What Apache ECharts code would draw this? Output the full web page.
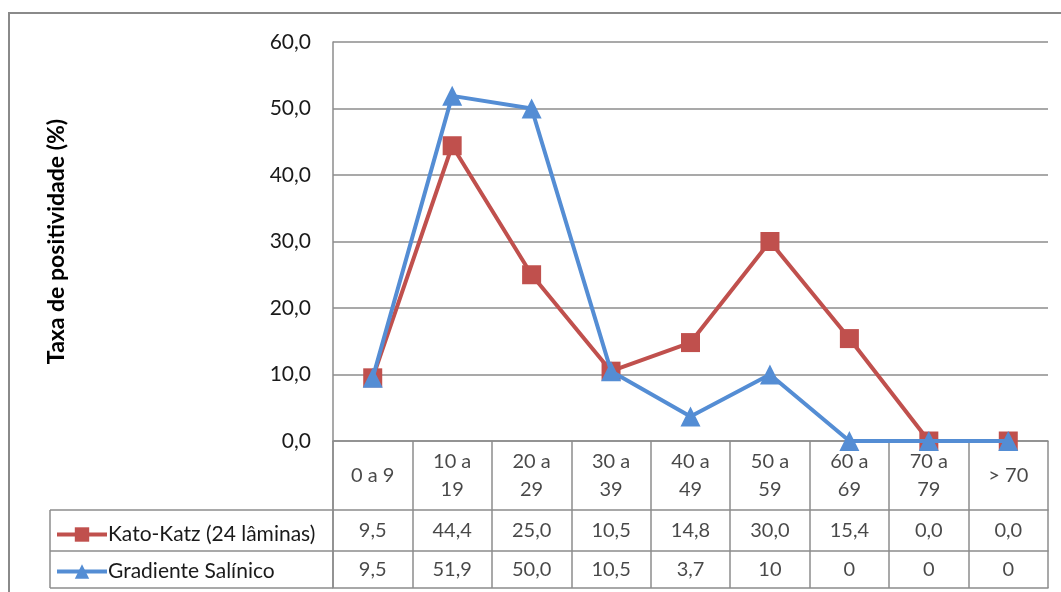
<!DOCTYPE html>
<html>
<head>
<meta charset="utf-8">
<script src="https://cdn.jsdelivr.net/npm/echarts@6/dist/echarts.min.js"></script>
<style>html,body{margin:0;padding:0;background:#fff;}#c{width:1061px;height:592px;}</style>
</head>
<body>
<div id="c"></div>
<script>
var categories = ['0 a 9', '10 a\n19', '20 a\n29', '30 a\n39', '40 a\n49', '50 a\n59', '60 a\n69', '70 a\n79', '> 70'];
var katoValues = [9.5, 44.4, 25.0, 10.5, 14.8, 30.0, 15.4, 0.0, 0.0];
var gradValues = [9.5, 51.9, 50.0, 10.5, 3.7, 10, 0, 0, 0];
var katoLabels = ['9,5', '44,4', '25,0', '10,5', '14,8', '30,0', '15,4', '0,0', '0,0'];
var gradLabels = ['9,5', '51,9', '50,0', '10,5', '3,7', '10', '0', '0', '0'];
var yTicks = [0, 10, 20, 30, 40, 50, 60];
var seriesNames = ['Kato-Katz (24 lâminas)', 'Gradiente Salínico'];

var FONT = 'Lato';
var LINE = '#8c8c8c';
var RED = '#C0504D';
var BLUE = '#548DD4';

var L = 333, W = 715;
function rowGrid(top, h) { return { left: L, top: top, width: W, height: h }; }
function rowX(idx) {
  return {
    type: 'category', gridIndex: idx, data: categories, boundaryGap: true, position: 'bottom',
    axisLine: { show: true, onZero: false, lineStyle: { color: LINE, width: 1.5 } },
    axisTick: { show: false }, axisLabel: { show: false },
    splitLine: { show: true, lineStyle: { color: LINE, width: 1.5 } }
  };
}
function rowY(idx) {
  return { type: 'value', gridIndex: idx, min: -1, max: 1, show: false };
}
function textSeries(idx, labels) {
  return {
    type: 'scatter', xAxisIndex: idx, yAxisIndex: idx, symbolSize: 0, silent: true,
    data: labels.map(function (t, i) { return [i, 0]; }),
    label: {
      show: true, position: 'inside', color: '#1a1a1a', fontFamily: FONT, fontSize: 20, lineHeight: 28,
      formatter: function (p) { return labels[p.dataIndex]; }
    }
  };
}

var chart = echarts.init(document.getElementById('c'));
chart.setOption({
  backgroundColor: '#fff',
  animation: false,
  grid: [
    { left: L, top: 42, width: W, height: 399 },
    rowGrid(441, 69),
    rowGrid(510, 41),
    rowGrid(551, 37)
  ],
  legend: {
    orient: 'vertical', left: 50, top: 519, itemGap: 16, itemWidth: 50, itemHeight: 18,
    data: seriesNames,
    lineStyle: { width: 4 },
    textStyle: { fontFamily: FONT, fontSize: 21, color: '#1a1a1a', padding: [0, 0, 0, -4] }
  },
  xAxis: [
    {
      type: 'category', gridIndex: 0, data: categories, boundaryGap: true,
      axisLine: { show: true, lineStyle: { color: LINE, width: 1.5 } },
      axisTick: { show: false }, axisLabel: { show: false }, splitLine: { show: false }
    },
    rowX(1), rowX(2), rowX(3)
  ],
  yAxis: [
    {
      type: 'value', gridIndex: 0, min: yTicks[0], max: yTicks[yTicks.length - 1], interval: 10,
      name: 'Taxa de positividade (%)', nameLocation: 'middle', nameGap: 265, nameRotate: 90,
      nameTextStyle: { fontFamily: FONT, fontSize: 23, fontWeight: 'bold', color: '#000' },
      axisLine: { show: true, lineStyle: { color: LINE, width: 1.5 } },
      axisTick: { show: false },
      axisLabel: {
        margin: 22, fontFamily: FONT, fontSize: 21, color: '#1a1a1a',
        formatter: function (v) { return v.toFixed(1).replace('.', ','); }
      },
      splitLine: { show: true, lineStyle: { color: LINE, width: 1.5 } }
    },
    rowY(1), rowY(2), rowY(3)
  ],
  graphic: [
    { type: 'rect', shape: { x: 9, y: 13, width: 1100, height: 620 }, style: { fill: 'none', stroke: '#8a8a8a', lineWidth: 2 }, silent: true },
    { type: 'line', shape: { x1: 50, y1: 510, x2: L, y2: 510 }, style: { stroke: LINE, lineWidth: 1.5 }, silent: true },
    { type: 'line', shape: { x1: 50, y1: 551, x2: L, y2: 551 }, style: { stroke: LINE, lineWidth: 1.5 }, silent: true },
    { type: 'line', shape: { x1: 50, y1: 588, x2: L, y2: 588 }, style: { stroke: LINE, lineWidth: 1.5 }, silent: true },
    { type: 'line', shape: { x1: 50, y1: 510, x2: 50, y2: 588 }, style: { stroke: LINE, lineWidth: 1.5 }, silent: true },
    { type: 'line', shape: { x1: L, y1: 441, x2: L, y2: 588 }, style: { stroke: LINE, lineWidth: 1.5 }, silent: true }
  ],
  series: [
    {
      name: seriesNames[0], type: 'line', xAxisIndex: 0, yAxisIndex: 0, data: katoValues,
      symbol: 'rect', symbolSize: 19, color: RED,
      lineStyle: { color: RED, width: 4 }, itemStyle: { color: RED }, z: 3
    },
    {
      name: seriesNames[1], type: 'line', xAxisIndex: 0, yAxisIndex: 0, data: gradValues,
      symbol: 'triangle', symbolSize: 20, color: BLUE,
      lineStyle: { color: BLUE, width: 4 }, itemStyle: { color: BLUE }, z: 4
    },
    textSeries(1, categories),
    textSeries(2, katoLabels),
    textSeries(3, gradLabels)
  ]
});
</script>
</body>
</html>
